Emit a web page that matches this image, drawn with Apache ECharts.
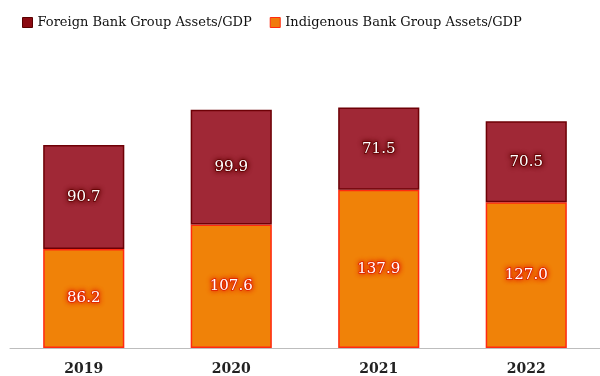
<!DOCTYPE html>
<html>
<head>
<meta charset="utf-8">
<script src="https://cdn.jsdelivr.net/npm/echarts@6/dist/echarts.min.js"></script>
<style>
  html, body { margin: 0; padding: 0; background: #fff; }
  #chart { width: 600px; height: 376px; }
</style>
</head>
<body>
<div id="chart"></div>
<script>
// Bank group assets as a share of GDP, by year
const years = ['2019', '2020', '2021', '2022'];
const foreignAssets = [90.7, 99.9, 71.5, 70.5];
const indigenousAssets = [86.2, 107.6, 137.9, 127.0];

const serif = "Georgia, 'DejaVu Serif', serif";

const valueLabel = (glow) => ({
  show: true,
  position: 'inside',
  formatter: p => p.value.toFixed(1),
  fontFamily: serif,
  fontSize: 15,
  color: '#fff',
  textBorderColor: glow,
  textBorderWidth: 1.5,
  textShadowColor: glow,
  textShadowBlur: 5
});

const chart = echarts.init(document.getElementById('chart'));
chart.setOption({
  animation: false,
  legend: {
    left: 17,
    top: 11,
    itemWidth: 10,
    itemHeight: 10,
    itemGap: 18,
    icon: 'rect',
    textStyle: { fontFamily: serif, fontSize: 13, color: '#111' },
    data: [
      { name: 'Foreign Bank Group Assets/GDP', itemStyle: { color: '#8b0a12', borderColor: '#5a0000', borderWidth: 1 } },
      { name: 'Indigenous Bank Group Assets/GDP', itemStyle: { color: '#f07a0c', borderColor: '#ff2a10', borderWidth: 1 } }
    ]
  },
  grid: { left: 10, right: -2, top: 61, bottom: 27 },
  xAxis: {
    type: 'category',
    data: years,
    axisLine: { lineStyle: { color: '#bdbdbd', width: 1 } },
    axisTick: { show: false },
    axisLabel: {
      fontFamily: serif, fontSize: 14, fontWeight: 'bold', color: '#222', margin: 14
    }
  },
  yAxis: { type: 'value', min: 0, max: 250, show: false, splitLine: { show: false } },
  series: [
    {
      name: 'Indigenous Bank Group Assets/GDP',
      type: 'bar',
      stack: 'total',
      barWidth: '55%',
      data: indigenousAssets,
      itemStyle: { color: '#f08208', borderColor: '#ff2a10', borderWidth: 1.5 },
      label: valueLabel('#e02000')
    },
    {
      name: 'Foreign Bank Group Assets/GDP',
      type: 'bar',
      stack: 'total',
      barWidth: '55%',
      data: foreignAssets,
      itemStyle: { color: '#a02836', borderColor: '#6e0006', borderWidth: 1.5 },
      label: valueLabel('#600000')
    }
  ]
});
</script>
</body>
</html>
